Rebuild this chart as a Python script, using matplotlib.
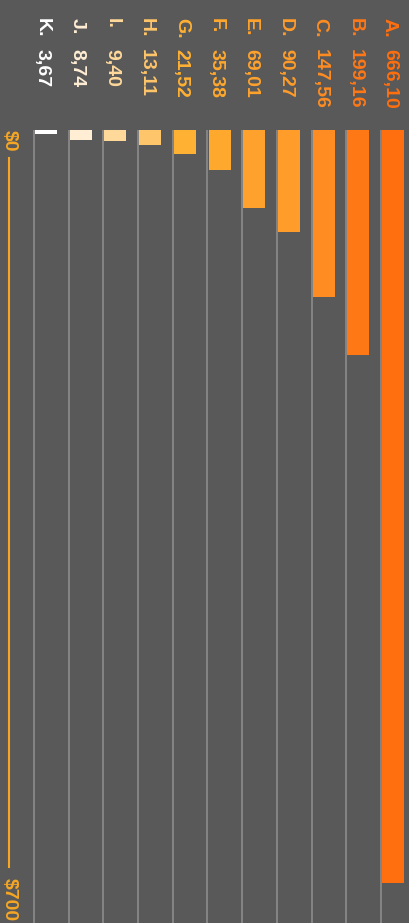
import matplotlib.pyplot as plt

# spending per item, letters A..K, values in dollars
letters = ['A', 'B', 'C', 'D', 'E', 'F', 'G', 'H', 'I', 'J', 'K']
values = [666.10, 199.16, 147.56, 90.27, 69.01, 35.38, 21.52, 13.11, 9.40, 8.74, 3.67]
colors = ['#ff6f0f', '#ff7816', '#fe8c22', '#ff9c2a', '#ffa22d', '#ffa82e',
          '#ffb133', '#ffc56a', '#ffd99a', '#ffedd4', '#ffffff']
axis_min, axis_max = 0, 700

bg = '#595959'
axis_col = '#f6a623'

fig = plt.figure(figsize=(4.09, 9.23), dpi=100, facecolor=bg)
ax = fig.add_axes([0, 0, 1, 1], facecolor=bg)

# columns run right to left (A on the right), bars hang down from the top
n = len(values)
pos = [n - 1 - i for i in range(n)]

ax.vlines(pos, axis_min, 720, color='#8c8c8c', lw=1.2, zorder=1)
ax.bar([p + 0.03 for p in pos], values, width=0.634, align='edge',
       color=colors, zorder=2)

for p, let, v, c in zip(pos, letters, values, colors):
    ax.text(p + 0.245, -99, let + '.', rotation=-90, ha='center', va='top',
            color=c, fontsize=14, fontweight='bold', family='Liberation Sans')
    ax.text(p + 0.245, -71.5, f'{v:.2f}'.replace('.', ','), rotation=-90,
            ha='center', va='top', color=c, fontsize=14, fontweight='bold',
            family='Liberation Sans')

# value scale drawn down the left edge
ax_x = -0.72
ax.text(ax_x, axis_min, '$0', rotation=-90, ha='center', va='top',
        color=axis_col, fontsize=14, fontweight='bold', family='Liberation Sans')
ax.text(ax_x, axis_max, '$700', rotation=-90, ha='center', va='bottom',
        color=axis_col, fontsize=14, fontweight='bold', family='Liberation Sans')
ax.plot([ax_x, ax_x], [axis_min + 25, axis_max - 48], color=axis_col, lw=1.5)

ax.set_xlim(-34 / 34.7, 375 / 34.7)
ax.set_ylim(701.8, -115.0)
ax.axis('off')

fig.savefig('out.png', dpi=100, facecolor=bg)
